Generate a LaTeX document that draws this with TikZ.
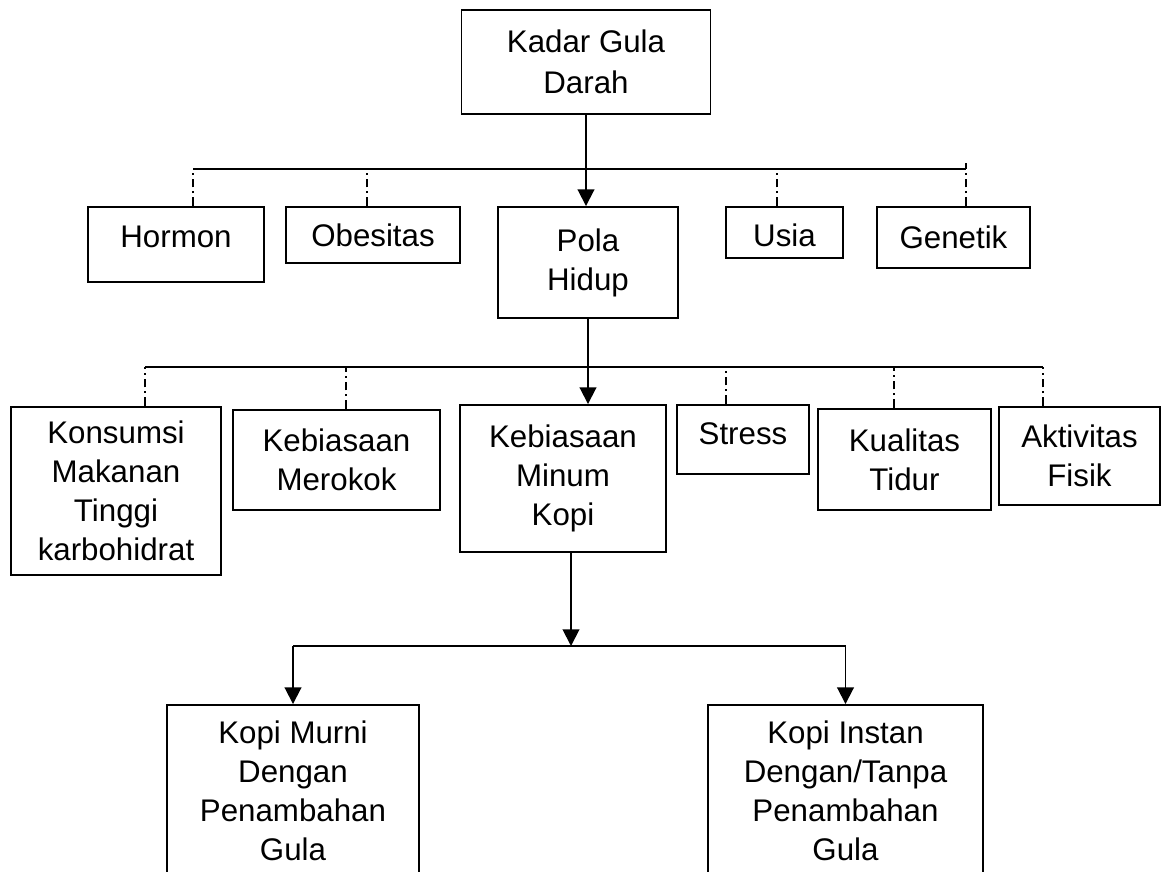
\documentclass[tikz,border=0pt]{standalone}
\usepackage{fontspec}
\setmainfont{Liberation Sans}
\usetikzlibrary{arrows.meta, positioning}

\begin{document}
\begin{tikzpicture}[x=0.02cm,y=-0.02cm]
\tikzstyle{every node}+=[inner sep=0pt]
\tikzstyle{box}=[draw, line width=1.1pt, align=center, font=\fontsize{17.8}{22.2}\selectfont]
\tikzstyle{boxsize}=[minimum width=#1*0.02cm]
\tikzstyle{boxhigh}=[minimum height=#1*0.02cm]
\tikzstyle{link}=[line width=1.1pt]
\tikzstyle{arr}=[link, -{Triangle[length=9.5pt,width=9.5pt]}]
\tikzstyle{dashlink}=[link, dash pattern=on 5pt off 2.3pt on 1pt off 2.3pt]
\clip (0,0) rectangle (1171,872);
\fill [white] (0,0) rectangle (1171,872);
% top level
\node [box, boxsize=249, boxhigh=104, font=\fontsize{17.8}{23.5}\selectfont] (kadar) at (586,62) {Kadar Gula\\Darah};
\node [box, boxsize=176, boxhigh=75, text depth=0.32cm] (hormon) at (176,244.5) {Hormon};
\node [box, boxsize=174, boxhigh=56] (obesitas) at (373,235) {Obesitas};
\node [box, boxsize=180, boxhigh=111] (pola) at (588,262.5) {Pola\\Hidup};
\node [box, boxsize=117, boxhigh=51, text height=0.55cm] (usia) at (784.5,232.5) {Usia};
\node [box, boxsize=153, boxhigh=61] (genetik) at (953.5,237.5) {Genetik};
% second level
\node [box, boxsize=210, boxhigh=168] (konsumsi) at (116,491) {Konsumsi\\Makanan\\Tinggi\\karbohidrat};
\node [box, boxsize=207, boxhigh=100] (merokok) at (336.5,460) {Kebiasaan\\Merokok};
\node [box, boxsize=206, boxhigh=147] (kopi) at (563,478.5) {Kebiasaan\\Minum\\Kopi};
\node [box, boxsize=132, boxhigh=69, text depth=0.24cm] (stress) at (743,439.5) {Stress};
\node [box, boxsize=173, boxhigh=101] (tidur) at (904.5,459.5) {Kualitas\\Tidur};
\node [box, boxsize=161, boxhigh=98] (fisik) at (1079.5,456) {Aktivitas\\Fisik};
% third level
\node [box, boxsize=252, boxhigh=172] (murni) at (293,791) {Kopi Murni\\Dengan\\Penambahan\\Gula};
\node [box, boxsize=275, boxhigh=172] (instan) at (845.5,791) {Kopi Instan\\Dengan/Tanpa\\Penambahan\\Gula};
% bus lines
\coordinate (busa1) at (193,169);
\coordinate (busa2) at (367,169);
\coordinate (busa3) at (777,169);
\coordinate (busa4) at (966,169);
\coordinate (busa5) at (966,163);
\coordinate (busb1) at (145,367);
\coordinate (busb2) at (346,367);
\coordinate (busb3) at (726,367);
\coordinate (busb4) at (894,367);
\coordinate (busb5) at (1043,367);
\coordinate (split) at (571,646);
\draw [link] (busa1) -- (busa4);
\draw [link] (busb1) -- (busb5);
\draw [dashlink] (busa1 |- hormon.north) -- (busa1);
\draw [dashlink] (busa2 |- obesitas.north) -- (busa2);
\draw [dashlink] (busa3 |- usia.north) -- (busa3);
\draw [dashlink] (busa5 |- genetik.north) -- (busa5);
\draw [dashlink] (busb1 |- konsumsi.north) -- (busb1);
\draw [dashlink] (busb2 |- merokok.north) -- (busb2);
\draw [dashlink] (busb3 |- stress.north) -- (busb3);
\draw [dashlink] (busb4 |- tidur.north) -- (busb4);
\draw [dashlink] (busb5 |- fisik.north) -- (busb5);
\draw [arr] (kadar.south) -- (kadar.south |- pola.north);
\draw [arr] (pola.south) -- (pola.south |- kopi.north);
\draw [arr] (split |- kopi.south) -- (split);
\draw [link] (murni.north |- split) -- (split -| instan.north);
\draw [arr] (murni.north |- split) -- (murni.north);
\draw [arr] (split -| instan.north) -- (instan.north);
\end{tikzpicture}
\end{document}
